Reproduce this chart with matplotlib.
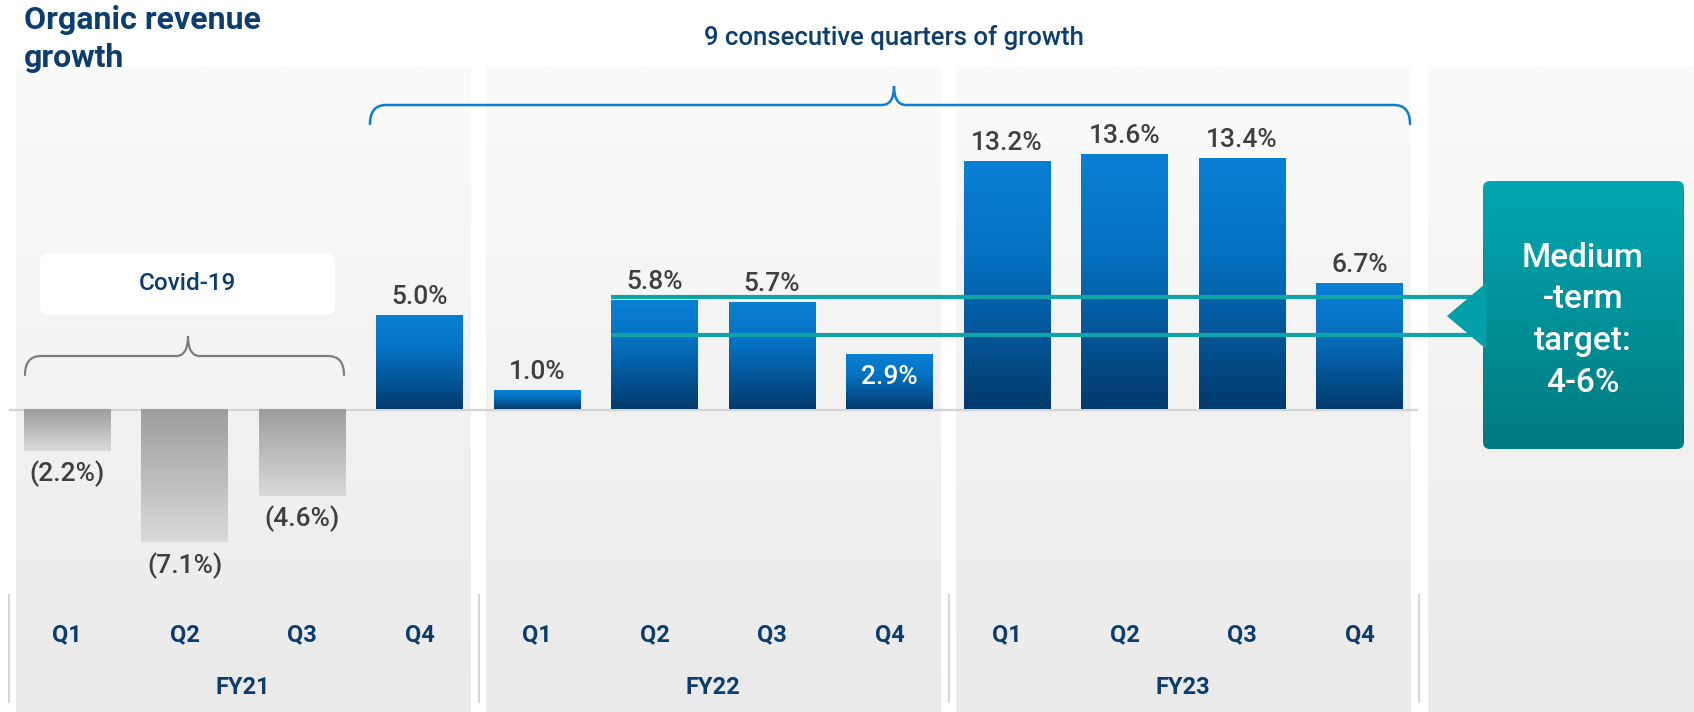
import numpy as np
import matplotlib
matplotlib.use("Agg")
import matplotlib.pyplot as plt
from matplotlib.patches import FancyBboxPatch, Polygon, PathPatch
from matplotlib.path import Path
from matplotlib.colors import LinearSegmentedColormap

plt.rcParams['font.family'] = ['Roboto', 'DejaVu Sans']

# ---------------- data ----------------
fiscal_years = ["FY21", "FY22", "FY23"]
quarters = ["Q1", "Q2", "Q3", "Q4"]
growth = [-2.2, -7.1, -4.6, 5.0, 1.0, 5.8, 5.7, 2.9, 13.2, 13.6, 13.4, 6.7]
value_labels = ["(2.2%)", "(7.1%)", "(4.6%)", "5.0%", "1.0%", "5.8%",
                "5.7%", "2.9%", "13.2%", "13.6%", "13.4%", "6.7%"]
target_range = [4.0, 6.0]
title_lines = ["Organic revenue", "growth"]
streak_label = "9 consecutive quarters of growth"
covid_label = "Covid-19"
target_lines = ["Medium", "-term", "target:", "4-6%"]

# ---------------- style ----------------
NAVY = "#0b3d6e"
VAL = "#3f3f3f"
TEAL = "#12a3a8"
MED = 500
label_inside = [False] * 7 + [True] + [False] * 4

W, H = 1694, 712
fig = plt.figure(figsize=(W / 100, H / 100), dpi=100)
ax = fig.add_axes([0, 0, 1, 1])
X0, DXU, Y0, DYU = 67.0, 117.5, 409.5, 18.72


def dx(px):
    return (np.asarray(px, dtype=float) - X0) / DXU


def dy(py):
    return (Y0 - np.asarray(py, dtype=float)) / DYU


ax.set_xlim(dx(0), dx(W))
ax.set_ylim(dy(H), dy(0))
ax.axis('off')
fig.patch.set_facecolor('white')


def vgrad(c_top, c_bot, extent, z, clip=None, stops=None):
    if stops is None:
        cmap = LinearSegmentedColormap.from_list('g', [c_top, c_bot])
    else:
        cmap = LinearSegmentedColormap.from_list('g', stops)
    g = np.linspace(0, 1, 256)[:, None]
    im = ax.imshow(g, cmap=cmap, extent=extent, aspect='auto', zorder=z,
                   interpolation='bilinear')
    if clip is not None:
        im.set_clip_path(clip)
    return im


# panels
panels = [(16, 470), (486, 940), (956, 1410), (1428, 1694)]
for l, r in panels:
    vgrad('#fbfbfb', '#eaeaea', [dx(l), dx(r), dy(H), dy(66)], 0)

# separators
ax.vlines(dx([9, 479, 949, 1419]), dy(703), dy(594), color='#d6d6d6', lw=1.5, zorder=1)

# zero line
ax.plot([dx(9), dx(1418)], [0, 0], color='#d4d4d4', lw=1.6, zorder=2,
        solid_capstyle='butt')

# bars
xs = np.arange(len(growth))
bars = ax.bar(xs, growth, width=0.74, color='none', edgecolor='none', zorder=3)
for i, (b, v) in enumerate(zip(bars, growth)):
    x0, w = b.get_x(), b.get_width()
    if v >= 0:
        ext = [x0, x0 + w, 0, v]
        vgrad(None, None, ext, 3,
              stops=[(0.0, '#0a80d5'), (0.4, '#0570c0'), (1.0, '#033a6d')])
    else:
        ext = [x0, x0 + w, v, 0]
        vgrad('#9d9d9d', '#dadada', ext, 3)

# value labels
for i, (x, v, t) in enumerate(zip(xs, growth, value_labels)):
    kw = dict(ha='center', fontsize=19, fontweight=MED, zorder=6,
              textcoords='offset points')
    if v < 0:
        ax.annotate(t, (x, v), xytext=(0, -7), va='top', color=VAL, **kw)
    elif label_inside[i]:
        ax.annotate(t, (x, v), xytext=(0, -7), va='top', color='white', **kw)
    else:
        ax.annotate(t, (x, v), xytext=(0, 5), va='bottom', color=VAL, **kw)

# quarter + year labels
for i, x in enumerate(xs):
    ax.text(x, dy(635), quarters[i % 4], ha='center', va='center',
            fontsize=17, fontweight='bold', color=NAVY, zorder=6)
for k, fy in enumerate(fiscal_years):
    ax.text(np.mean(xs[4 * k:4 * k + 4]), dy(688), fy, ha='center', va='center',
            fontsize=17, fontweight='bold', color=NAVY, zorder=6)

# target lines
ax.hlines(target_range, dx(611), dx(1478), color=TEAL, lw=3, zorder=5)

# callout
asp = DXU / DYU
bx0, by0, bx1, by1 = 1483, 181, 1684, 449
box = FancyBboxPatch((dx(bx0), dy(by1)), dx(bx1) - dx(bx0), dy(by0) - dy(by1),
                     boxstyle="round,pad=0,rounding_size=%f" % (7 / DXU),
                     mutation_aspect=asp, facecolor='none', edgecolor='none', zorder=6)
ax.add_patch(box)
vgrad('#00a7b2', '#007a80', [dx(bx0), dx(bx1), dy(by1), dy(by0)], 6, clip=box)
tri = Polygon([(dx(1447), dy(316)), (dx(1486), dy(283)), (dx(1486), dy(349))],
              closed=True, facecolor='#03a0a9', edgecolor='none', zorder=6)
ax.add_patch(tri)
for k, (t, yb) in enumerate(zip(target_lines, [267, 308.5, 350, 391.5])):
    ax.text(dx(1583), dy(yb), t, ha='center', va='baseline', fontsize=24,
            fontweight=MED, color='white', zorder=7)

# covid box
cbox = FancyBboxPatch((dx(40), dy(315)), dx(335) - dx(40), dy(253) - dy(315),
                      boxstyle="round,pad=0,rounding_size=%f" % (9 / DXU),
                      mutation_aspect=asp, facecolor='white', edgecolor='none', zorder=4)
ax.add_patch(cbox)
ax.text(dx(187.5), dy(284), covid_label, ha='center', va='center', fontsize=17.5,
        fontweight=MED, color=NAVY, zorder=6)


def brace(xl, xr, xt, yt, yh, ye, r, r2, color, lw):
    pts = [(xl, ye), (xl, yh), (xl + r, yh), (xt - r2, yh), (xt, yh), (xt, yt),
           (xt, yh), (xt + r2, yh), (xr - r, yh), (xr, yh), (xr, ye)]
    codes = [Path.MOVETO, Path.CURVE3, Path.CURVE3, Path.LINETO, Path.CURVE3,
             Path.CURVE3, Path.CURVE3, Path.CURVE3, Path.LINETO, Path.CURVE3, Path.CURVE3]
    verts = [(float(dx(p[0])), float(dy(p[1]))) for p in pts]
    ax.add_patch(PathPatch(Path(verts, codes), facecolor='none', edgecolor=color,
                           lw=lw, zorder=5, capstyle='round'))


brace(25, 344, 188, 336, 356, 375, 16, 12, '#7d7d7d', 1.6)
brace(370, 1410, 894, 86, 105, 124, 16, 12, '#0a7fd4', 1.8)

ax.text(dx(894), dy(38), streak_label, ha='center', va='center', fontsize=18.5,
        fontweight=MED, color=NAVY, zorder=6)

# title
for t, yb in zip(title_lines, [29, 67]):
    ax.text(dx(24), dy(yb), t, ha='left', va='baseline', fontsize=23,
            fontweight='bold', color=NAVY, zorder=6)

fig.savefig('out.png', dpi=100, facecolor='white')
